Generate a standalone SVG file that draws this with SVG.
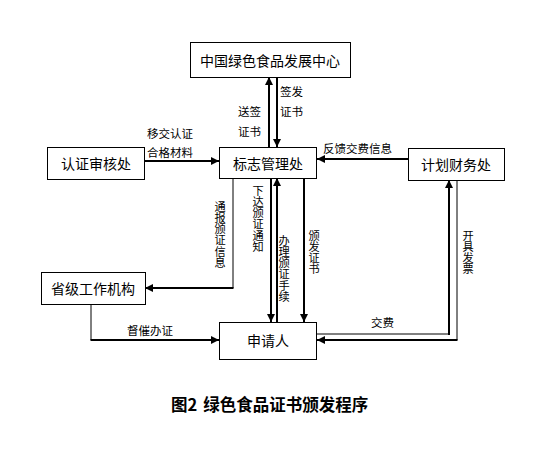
<svg xmlns="http://www.w3.org/2000/svg" width="544" height="460" viewBox="0 0 544 460">
<defs>
<style>
.box{fill:#fff;stroke:#000;stroke-width:1}
.lbl{font-family:"Noto Sans CJK SC","Liberation Sans",sans-serif;font-size:14px;fill:#000;text-anchor:middle;dominant-baseline:central}
.el{font-family:"Noto Sans CJK SC","Liberation Sans",sans-serif;font-size:11.5px;fill:#000}
.vl{font-family:"Noto Sans CJK SC","Liberation Sans",sans-serif;font-size:11.2px;fill:#000;writing-mode:vertical-rl;text-orientation:upright}
.ln{fill:none;stroke:#000;stroke-width:2}
.thin{fill:none;stroke:#000;stroke-width:1}
.cap{font-family:"Noto Sans CJK SC","Liberation Sans",sans-serif;font-size:16.5px;font-weight:bold;fill:#000}
</style>
<marker id="ah" markerUnits="userSpaceOnUse" markerWidth="8" markerHeight="8" refX="8" refY="4" orient="auto">
<path d="M0,0 L8,4 L0,8 z" fill="#000"/>
</marker>
</defs>
<rect width="544" height="460" fill="#fff"/>

<g id="connectors">
<line class="ln" x1="269" y1="147" x2="269" y2="77" marker-end="url(#ah)" stroke-width="2.5"/>
<line class="ln" x1="277" y1="77" x2="277" y2="147" marker-end="url(#ah)"/>
<line class="ln" x1="144" y1="161" x2="219" y2="161" marker-end="url(#ah)"/>
<line class="ln" x1="408" y1="159" x2="317" y2="159" marker-end="url(#ah)"/>
<line class="thin" x1="233" y1="178" x2="233" y2="288"/>
<line class="ln" x1="233.5" y1="288" x2="145" y2="288" marker-end="url(#ah)"/>
<line class="ln" x1="271" y1="178" x2="271" y2="322" marker-end="url(#ah)" stroke-width="2.5"/>
<line class="ln" x1="277" y1="322" x2="277" y2="178" marker-end="url(#ah)" stroke-width="1.5"/>
<line class="ln" x1="304" y1="178" x2="304" y2="322" marker-end="url(#ah)"/>
<line class="thin" x1="91" y1="304" x2="91" y2="340"/>
<line class="ln" x1="90.5" y1="340" x2="219" y2="340" marker-end="url(#ah)"/>
<line class="thin" x1="317" y1="334" x2="449" y2="334" stroke-width="1.5"/>
<line class="ln" x1="449" y1="335" x2="449" y2="180" marker-end="url(#ah)"/>
<line class="thin" x1="457" y1="180" x2="457" y2="340"/>
<line class="ln" x1="457.5" y1="340" x2="317" y2="340" marker-end="url(#ah)"/>

<text class="el" x="238" y="116">送签</text>
<text class="el" x="238" y="136">证书</text>
<text class="el" x="280" y="96">签发</text>
<text class="el" x="280" y="116">证书</text>
<text class="el" x="147" y="138">移交认证</text>
<text class="el" x="147" y="157">合格材料</text>
<text class="el" x="323" y="153">反馈交费信息</text>
<text class="el" x="127" y="335">督催办证</text>
<text class="el" x="371" y="327">交费</text>
<text class="vl" x="220" y="201">通报颁证信息</text>
<text class="vl" x="258" y="185">下达颁证通知</text>
<text class="vl" x="284" y="235">办理颁证手续</text>
<text class="vl" x="314" y="230">颁发证书</text>
<text class="vl" x="468" y="230">开具发票</text>
</g>

<g id="node-center">
<rect class="box" x="190.5" y="42.5" width="160" height="35"/>
<text class="lbl" x="270" y="60">中国绿色食品发展中心</text>
</g>
<g id="node-mark">
<rect class="box" x="219.5" y="147.5" width="97" height="31"/>
<text class="lbl" x="268" y="163">标志管理处</text>
</g>
<g id="node-audit">
<rect class="box" x="47.5" y="147.5" width="97" height="32"/>
<text class="lbl" x="96" y="163">认证审核处</text>
</g>
<g id="node-finance">
<rect class="box" x="408.5" y="148.5" width="96" height="32"/>
<text class="lbl" x="456" y="164">计划财务处</text>
</g>
<g id="node-province">
<rect class="box" x="41.5" y="272.5" width="104" height="32"/>
<text class="lbl" x="93" y="288">省级工作机构</text>
</g>
<g id="node-applicant">
<rect class="box" x="219.5" y="322.5" width="97" height="37"/>
<text class="lbl" x="268" y="340">申请人</text>
</g>

<text class="cap" x="171" y="411">图2<tspan dx="6">绿色食品证书颁发程序</tspan></text>
</svg>
